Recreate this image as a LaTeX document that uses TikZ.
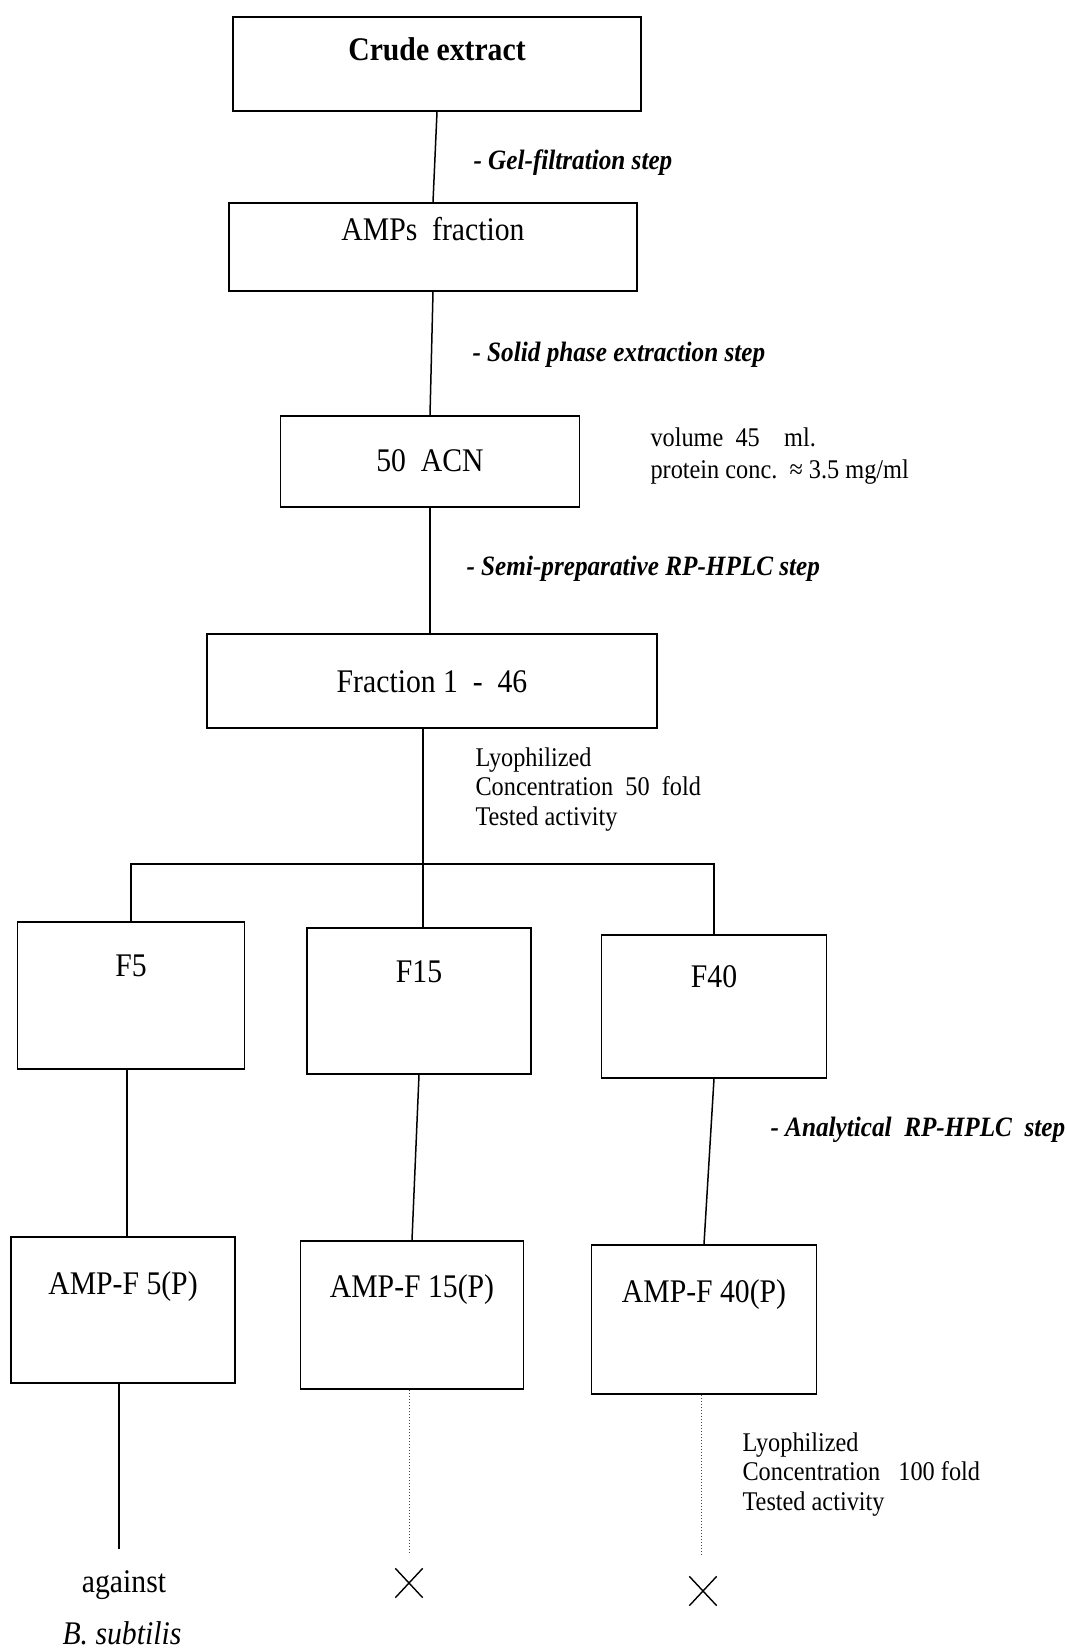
\documentclass[tikz,border=0pt]{standalone}
\usepackage{fontspec}
\setmainfont{Liberation Serif}[FakeStretch=0.9]
\usetikzlibrary{shapes.misc}
\begin{document}
\begin{tikzpicture}[x=1pt,y=-1pt,
  box/.style={draw, line width=1.8pt, rectangle, inner sep=0pt, anchor=north, font=\fontsize{33}{36}\selectfont},
  conn/.style={line width=1.5pt},
  dotconn/.style={line width=1pt, dotted, black!70},
  steplabel/.style={anchor=base west, font=\fontsize{28}{30}\selectfont\bfseries\itshape},
  note/.style={anchor=base west, align=left, font=\fontsize{27}{29.5}\selectfont},
  endtext/.style={anchor=base, font=\fontsize{33}{36}\selectfont},
  xmark/.style={cross out, draw, line width=1.4pt, minimum width=26pt, minimum height=28pt, inner sep=0pt}
]
\useasboundingbox[fill=white] (0,0) rectangle (1066,1649);

% main chain
\node[box, minimum width=408pt, text height=44pt, text depth=50pt] (crude) at (437,16) {\bfseries Crude extract};
\node[box, minimum width=408pt, text height=38pt, text depth=50pt] (amps) at (433,202) {AMPs\ \ fraction};
\node[box, minimum width=299pt, text height=56pt, text depth=35pt] (acn) at (430,415) {50\ \ ACN};
\node[box, minimum width=450pt, text height=59pt, text depth=35pt] (frac) at (432,633) {Fraction 1\ \ -\ \ 46};

% fractions
\node[box, minimum width=227pt, text height=55pt, text depth=92pt] (F5) at (131,921) {F5};
\node[box, minimum width=224pt, text height=55pt, text depth=91pt] (F15) at (419,927) {F15};
\node[box, minimum width=225pt, text height=53pt, text depth=90pt] (F40) at (714,934) {F40};

% purified
\node[box, minimum width=224pt, text height=58pt, text depth=88pt] (A5) at (123,1236) {AMP-F 5(P)};
\node[box, minimum width=223pt, text height=57pt, text depth=91pt] (A15) at (412,1240) {AMP-F 15(P)};
\node[box, minimum width=225pt, text height=58pt, text depth=91pt] (A40) at (704,1244) {AMP-F 40(P)};

% step labels
\node[steplabel] (l1) at (470,169) {- Gel-filtration step};
\node[steplabel] (l2) at (469,361) {- Solid phase extraction step};
\node[steplabel] (l3) at (463,575) {- Semi-preparative RP-HPLC step};
\node[steplabel] (l4) at (767,1136) {- Analytical\ \ RP-HPLC\ \ step};

% notes (base anchor = baseline of last line)
\node[note, font=\fontsize{27}{32}\selectfont] (n1) at (647,478) {volume\ \ 45\ \ \ \ ml.\\protein conc.\ \ ≈ 3.5 mg/ml};
\node[note] (n2) at (472,825) {Lyophilized\\Concentration\ \ 50\ \ fold\\Tested activity};
\node[note] (n3) at (739,1510) {Lyophilized\\Concentration\ \ \ 100 fold\\Tested activity};

% end marks
\node[endtext] (against) at (124,1592) {against};
\node[endtext] (bsub) at (122,1644) {\itshape B. subtilis};
\node[xmark] (x1) at (409,1583) {};
\node[xmark] (x2) at (703,1591) {};

\coordinate (bar) at (423,864);
\coordinate (c5) at (127,1150);
\coordinate (e1) at (119,1549);
\coordinate (e2) at (409,1554);
\coordinate (e3) at (701,1556);

% connectors
\draw[conn] (crude.south) -- (amps.north);
\draw[conn] (amps.south) -- (acn.north);
\draw[conn] (acn.south) -- (acn.south |- frac.north);
\draw[conn] (frac.south -| bar) -- (bar) -- (bar |- F15.north);
\draw[conn] (F5.north) -- (F5.north |- bar) -- (F40.north |- bar) -- (F40.north);
\draw[conn] (F5.south -| c5) -- (A5.north -| c5);
\draw[conn] (F15.south) -- (A15.north);
\draw[conn] (F40.south) -- (A40.north);
\draw[conn] (A5.south -| e1) -- (e1);
\draw[dotconn] (A15.south -| e2) -- (e2);
\draw[dotconn] (A40.south -| e3) -- (e3);
\end{tikzpicture}
\end{document}
